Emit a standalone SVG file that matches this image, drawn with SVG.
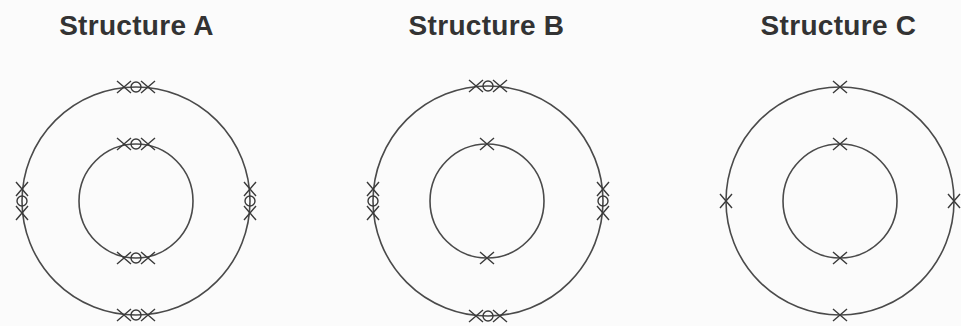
<svg xmlns="http://www.w3.org/2000/svg" xmlns:xlink="http://www.w3.org/1999/xlink" width="961" height="326" viewBox="0 0 961 326">
  <style>
    .title { font-family: "Liberation Sans", Arial, sans-serif; font-weight: bold; font-size: 28px; fill: #333333; text-anchor: middle; letter-spacing: 0.3px; }
    .shell { fill: none; stroke: #4a4a4a; stroke-width: 1.6; }
    .el { fill: none; stroke: #3a3a3a; stroke-width: 1.4; }
  </style>
  <defs>
    <g id="x">
      <path class="el" d="M-7,-6 L7,6 M-7,6 L7,-6"/>
    </g>
    <g id="pair">
      <use xlink:href="#x" x="-12" y="0"/>
      <circle class="el" cx="0" cy="0" r="5" stroke-width="1"/>
      <use xlink:href="#x" x="12" y="0"/>
    </g>
  </defs>
  <rect width="961" height="326" fill="#fbfbfb"/>

  <g id="structure-a">
    <text class="title" x="136.5" y="35">Structure A</text>
    <circle class="shell" cx="136" cy="201" r="114"/>
    <circle class="shell" cx="136" cy="201" r="57"/>
    <use xlink:href="#pair" transform="translate(136,87)"/>
    <use xlink:href="#pair" transform="translate(136,315)"/>
    <use xlink:href="#pair" transform="translate(22,201) rotate(90)"/>
    <use xlink:href="#pair" transform="translate(250,201) rotate(90)"/>
    <use xlink:href="#pair" transform="translate(136,144)"/>
    <use xlink:href="#pair" transform="translate(136,258)"/>
  </g>

  <g id="structure-b">
    <text class="title" x="486.5" y="35">Structure B</text>
    <circle class="shell" cx="488" cy="201" r="115"/>
    <circle class="shell" cx="487" cy="201" r="57"/>
    <use xlink:href="#pair" transform="translate(488,86)"/>
    <use xlink:href="#pair" transform="translate(488,316)"/>
    <use xlink:href="#pair" transform="translate(373,201) rotate(90)"/>
    <use xlink:href="#pair" transform="translate(603,201) rotate(90)"/>
    <use xlink:href="#x" transform="translate(487,144)"/>
    <use xlink:href="#x" transform="translate(487,258)"/>
  </g>

  <g id="structure-c">
    <text class="title" x="838.5" y="35">Structure C</text>
    <circle class="shell" cx="840" cy="201" r="114"/>
    <circle class="shell" cx="840" cy="201" r="57"/>
    <use xlink:href="#x" transform="translate(840,87)"/>
    <use xlink:href="#x" transform="translate(840,315)"/>
    <use xlink:href="#x" transform="translate(726,201) rotate(90)"/>
    <use xlink:href="#x" transform="translate(954,201) rotate(90)"/>
    <use xlink:href="#x" transform="translate(840,144)"/>
    <use xlink:href="#x" transform="translate(840,258)"/>
  </g>
</svg>
